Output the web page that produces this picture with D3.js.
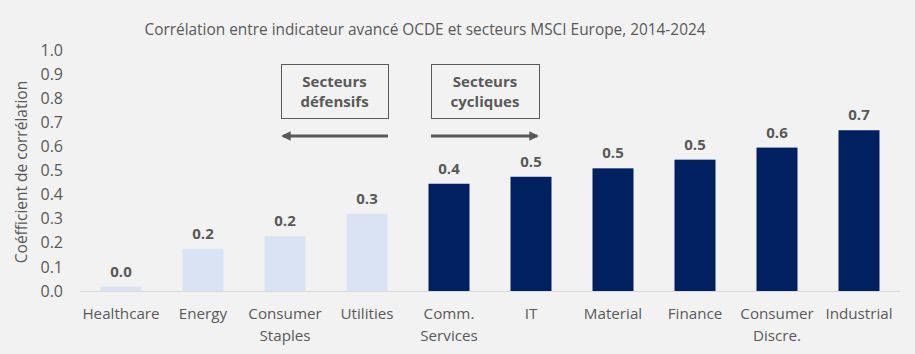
<!DOCTYPE html>
<html>
<head>
<meta charset="utf-8">
<script src="https://cdn.jsdelivr.net/npm/d3@7"></script>
<style>
  body { margin: 0; background: #f2f2f2; }
  svg { display: block; font-family: "Open Sans", sans-serif; }
</style>
</head>
<body>
<div id="chart"></div>
<script>
const sectors = ['Healthcare', 'Energy', 'Consumer\nStaples', 'Utilities', 'Comm.\nServices',
  'IT', 'Material', 'Finance', 'Consumer\nDiscre.', 'Industrial'];
const correlations = [0.018, 0.175, 0.227, 0.32, 0.445, 0.474, 0.509, 0.545, 0.595, 0.667];
const groups = ['def', 'def', 'def', 'def', 'cyc', 'cyc', 'cyc', 'cyc', 'cyc', 'cyc'];
const yTicks = [0, 0.1, 0.2, 0.3, 0.4, 0.5, 0.6, 0.7, 0.8, 0.9, 1.0];

const
  width = 915,
  height = 354,
  margin = { top: 50, right: 15, bottom: 63, left: 80 },
  textColor = '#595959',
  colors = { def: '#dae3f3', cyc: '#002060' };

const svg = d3.select('#chart')
  .append('svg')
  .attr('width', width)
  .attr('height', height);

svg.append('rect')
  .attr('width', width)
  .attr('height', height)
  .attr('fill', '#f2f2f2');

const x = d3.scaleBand()
  .domain(sectors)
  .range([margin.left, width - margin.right])
  .paddingInner(0.5)
  .paddingOuter(0.25);

const y = d3.scaleLinear()
  .domain([0, 1])
  .range([height - margin.bottom, margin.top]);

// title
svg.append('text')
  .attr('x', 425)
  .attr('y', 35)
  .attr('text-anchor', 'middle')
  .style('font-size', '15.4px')
  .attr('fill', textColor)
  .text('Corrélation entre indicateur avancé OCDE et secteurs MSCI Europe, 2014-2024');

// y axis labels
svg.append('g')
  .selectAll('text')
  .data(yTicks)
  .join('text')
  .attr('x', 63)
  .attr('y', d => y(d))
  .attr('dy', '0.35em')
  .attr('text-anchor', 'end')
  .style('font-size', '16px')
  .attr('fill', textColor)
  .text(d3.format('.1f'));

svg.append('text')
  .attr('transform', `translate(27,${172}) rotate(-90)`)
  .attr('text-anchor', 'middle')
  .style('font-size', '15.5px')
  .attr('fill', textColor)
  .text('Coéfficient de corrélation');

// bars
svg.append('g')
  .selectAll('rect')
  .data(sectors)
  .join('rect')
  .attr('x', d => x(d))
  .attr('width', x.bandwidth())
  .attr('y', (d, i) => y(correlations[i]))
  .attr('height', (d, i) => y(0) - y(correlations[i]))
  .attr('fill', (d, i) => colors[groups[i]]);

// baseline
svg.append('line')
  .attr('x1', margin.left)
  .attr('x2', width - margin.right)
  .attr('y1', y(0) + 0.5)
  .attr('y2', y(0) + 0.5)
  .attr('stroke', '#d9d9d9')
  .attr('stroke-width', 1);

// value labels
svg.append('g')
  .selectAll('text')
  .data(sectors)
  .join('text')
  .attr('x', d => x(d) + x.bandwidth() / 2)
  .attr('y', (d, i) => y(correlations[i]) - 10)
  .attr('text-anchor', 'middle')
  .style('font-size', '15px')
  .style('font-weight', 'bold')
  .attr('fill', textColor)
  .text((d, i) => d3.format('.1f')(correlations[i]));

// category labels
const cat = svg.append('g')
  .selectAll('text')
  .data(sectors)
  .join('text')
  .attr('text-anchor', 'middle')
  .style('font-size', '15.2px')
  .attr('fill', textColor);

cat.selectAll('tspan')
  .data(d => d.split('\n').map(t => ({ t, c: x(d) + x.bandwidth() / 2 })))
  .join('tspan')
  .attr('x', d => d.c)
  .attr('y', (d, i) => 319 + i * 22)
  .text(d => d.t);

// annotation boxes
const boxes = [
  { x0: 281, x1: 388, lines: ['Secteurs', 'défensifs'], dir: -1 },
  { x0: 431, x1: 539, lines: ['Secteurs', 'cycliques'], dir: 1 }
];

svg.append('defs')
  .append('marker')
  .attr('id', 'head')
  .attr('viewBox', '0 0 10 10')
  .attr('refX', 8)
  .attr('refY', 5)
  .attr('markerWidth', 3.2)
  .attr('markerHeight', 3.2)
  .attr('orient', 'auto')
  .append('path')
  .attr('d', 'M0,0 L10,5 L0,10 Z')
  .attr('fill', textColor);

const ann = svg.append('g')
  .selectAll('g')
  .data(boxes)
  .join('g');

ann.append('rect')
  .attr('x', d => d.x0 + 0.5)
  .attr('y', 64.5)
  .attr('width', d => d.x1 - d.x0)
  .attr('height', 54)
  .attr('fill', 'none')
  .attr('stroke', textColor)
  .attr('stroke-width', 1);

ann.append('text')
  .attr('text-anchor', 'middle')
  .style('font-size', '15px')
  .style('font-weight', 'bold')
  .attr('fill', textColor)
  .selectAll('tspan')
  .data(d => d.lines.map(t => ({ t, c: (d.x0 + d.x1) / 2 })))
  .join('tspan')
  .attr('x', d => d.c)
  .attr('y', (d, i) => 87 + i * 20)
  .text(d => d.t);

ann.append('line')
  .attr('x1', d => d.dir < 0 ? d.x1 : d.x0)
  .attr('x2', d => d.dir < 0 ? d.x0 + 2 : d.x1 - 2)
  .attr('y1', 136)
  .attr('y2', 136)
  .attr('stroke', textColor)
  .attr('stroke-width', 3)
  .attr('marker-end', 'url(#head)');
</script>
</body>
</html>
